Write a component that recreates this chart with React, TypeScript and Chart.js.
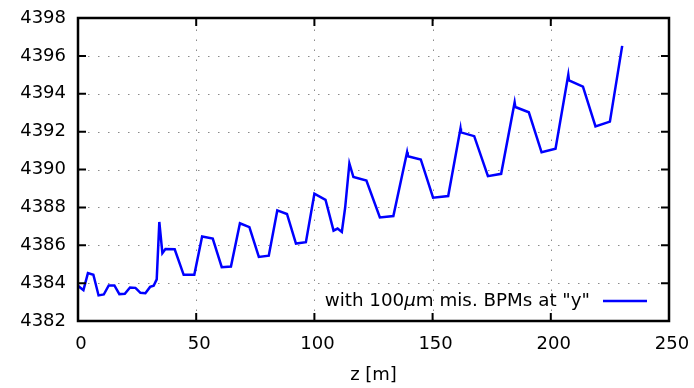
import React, { useEffect, useRef } from "react";
import { Chart, registerables } from "chart.js";

Chart.register(...registerables);

const zValues: number[] = [
  0, 2.3, 4.2, 6.5, 8.7, 10.9, 13, 15.4, 17.5, 19.8,
  22, 24.3, 26.4, 28.5, 30.5, 32, 33.3, 34.4, 35.7, 37,
  40.9, 44.7, 49.2, 52.5, 57, 60.8, 64.7, 68.5, 72.5, 76.5,
  80.7, 84.3, 88.4, 92.2, 96.4, 100, 104.7, 108.1, 109.8, 111.6,
  113, 114.8, 116.5, 122, 127.7, 133.4, 139.2, 139.5, 145, 150.2,
  156.6, 161.8, 162, 167.6, 173.4, 179, 184.7, 185, 190.7, 196.1,
  202, 207.4, 207.7, 213.6, 218.9, 225, 230.2,
];

const yValues: number[] = [
  4383.86, 4383.63, 4384.53, 4384.44, 4383.35, 4383.4, 4383.88, 4383.88, 4383.42, 4383.44,
  4383.77, 4383.75, 4383.49, 4383.47, 4383.8, 4383.86, 4384.2, 4387.23, 4385.58, 4385.8,
  4385.79, 4384.44, 4384.44, 4386.46, 4386.35, 4384.84, 4384.88, 4387.16, 4386.96, 4385.38,
  4385.45, 4387.84, 4387.65, 4386.09, 4386.16, 4388.72, 4388.4, 4386.77, 4386.88, 4386.7,
  4387.98, 4390.32, 4389.6, 4389.42, 4387.47, 4387.54, 4390.91, 4390.7, 4390.53, 4388.51,
  4388.6, 4392.16, 4391.96, 4391.76, 4389.65, 4389.77, 4393.54, 4393.3, 4393.02, 4390.91,
  4391.1, 4395.0, 4394.7, 4394.38, 4392.28, 4392.53, 4396.53,
];

const xTicks: number[] = [0, 50, 100, 150, 200, 250];
const yTicks: number[] = [4382, 4384, 4386, 4388, 4390, 4392, 4394, 4396, 4398];
const seriesLabel = 'with 100μm mis. BPMs at "y"';
const xTitle = "z [m]";

const FONT = "DejaVu Sans";

const gnuplotPlugin = {
  id: "gnuplotDecor",
  beforeDatasetsDraw(chart: any) {
    const { ctx, chartArea } = chart;
    const xs = chart.scales.x;
    const ys = chart.scales.y;
    ctx.save();
    ctx.strokeStyle = "#8a8a8a";
    ctx.lineWidth = 1;
    ctx.setLineDash([1.5, 8.5]);
    for (const v of xTicks.slice(1, -1)) {
      const px = Math.round(xs.getPixelForValue(v)) + 0.5;
      ctx.beginPath();
      ctx.moveTo(px, chartArea.bottom);
      ctx.lineTo(px, chartArea.top);
      ctx.stroke();
    }
    for (const v of yTicks.slice(1, -1)) {
      const py = Math.round(ys.getPixelForValue(v)) + 0.5;
      ctx.beginPath();
      ctx.moveTo(chartArea.left, py);
      ctx.lineTo(chartArea.right, py);
      ctx.stroke();
    }
    ctx.restore();
  },
  afterDatasetsDraw(chart: any) {
    const { ctx, chartArea } = chart;
    const xs = chart.scales.x;
    const ys = chart.scales.y;
    const { left, right, top, bottom } = chartArea;
    ctx.save();
    ctx.setLineDash([]);
    ctx.strokeStyle = "#000";
    ctx.lineWidth = 2;
    const tl = 8;
    for (const v of xTicks) {
      const px = xs.getPixelForValue(v);
      ctx.beginPath();
      ctx.moveTo(px, bottom);
      ctx.lineTo(px, bottom - tl);
      ctx.moveTo(px, top);
      ctx.lineTo(px, top + tl);
      ctx.stroke();
    }
    for (const v of yTicks) {
      const py = ys.getPixelForValue(v);
      ctx.beginPath();
      ctx.moveTo(left, py);
      ctx.lineTo(left + tl, py);
      ctx.moveTo(right, py);
      ctx.lineTo(right - tl, py);
      ctx.stroke();
    }
    ctx.lineWidth = 2.5;
    ctx.strokeRect(left, top, right - left, bottom - top);

    // legend (gnuplot style: text right-aligned, then sample line)
    const ds = chart.data.datasets[0];
    const label: string = ds.label;
    const ly = bottom - 20;
    const lineStart = right - 66;
    const lineEnd = right - 22;
    ctx.strokeStyle = ds.borderColor;
    ctx.lineWidth = 2.5;
    ctx.beginPath();
    ctx.moveTo(lineStart, ly);
    ctx.lineTo(lineEnd, ly);
    ctx.stroke();
    const idx = label.indexOf("μ");
    const fs = 18.3;
    const parts = idx >= 0
      ? [
          { t: label.slice(0, idx), f: `${fs}px "${FONT}"` },
          { t: "μ", f: `italic ${fs}px "${FONT}"` },
          { t: label.slice(idx + 1), f: `${fs}px "${FONT}"` },
        ]
      : [{ t: label, f: `${fs}px "${FONT}"` }];
    let total = 0;
    for (const p of parts) {
      ctx.font = p.f;
      total += ctx.measureText(p.t).width;
    }
    let x = lineStart - 13 - total;
    ctx.fillStyle = "#000";
    ctx.textBaseline = "middle";
    ctx.textAlign = "left";
    for (const p of parts) {
      ctx.font = p.f;
      ctx.fillText(p.t, x, ly);
      x += ctx.measureText(p.t).width;
    }
    ctx.restore();
  },
};

export default function App() {
  const canvasRef = useRef<HTMLCanvasElement | null>(null);

  useEffect(() => {
    document.body.style.margin = "0";
    const canvas = canvasRef.current;
    if (!canvas) return;
    const chart = new Chart(canvas, {
      type: "line",
      data: {
        datasets: [
          {
            label: seriesLabel,
            data: zValues.map((z, i) => ({ x: z, y: yValues[i] })),
            borderColor: "#0000ff",
            backgroundColor: "#0000ff",
            borderWidth: 2.5,
            pointRadius: 0,
            tension: 0,
            fill: false,
          },
        ],
      },
      options: {
        responsive: false,
        animation: false,
        devicePixelRatio: 1,
        layout: { padding: { left: 0, right: 25, top: 18, bottom: 0 } },
        plugins: {
          legend: { display: false },
          tooltip: { enabled: false },
        },
        scales: {
          x: {
            type: "linear",
            min: 0,
            max: 250,
            afterBuildTicks: (s: any) => {
              s.ticks = xTicks.map((v) => ({ value: v }));
            },
            afterFit: (s: any) => {
              s.height = 67;
              s.paddingLeft = 0;
              s.paddingRight = 0;
            },
            grid: { display: false, drawTicks: false },
            border: { display: false },
            ticks: {
              color: "#000",
              padding: 13,
              labelOffset: 3,
              maxRotation: 0,
              autoSkip: false,
              font: { family: FONT, size: 18 },
            },
            title: {
              display: true,
              text: xTitle,
              color: "#000",
              font: { family: FONT, size: 18 },
              padding: { top: 0, bottom: 2 },
            },
          },
          y: {
            type: "linear",
            min: 4382,
            max: 4398,
            afterBuildTicks: (s: any) => {
              s.ticks = yTicks.map((v) => ({ value: v }));
            },
            afterFit: (s: any) => {
              s.width = 78;
              s.paddingTop = 0;
              s.paddingBottom = 0;
            },
            grid: { display: false, drawTicks: false },
            border: { display: false },
            ticks: {
              color: "#000",
              padding: 12,
              autoSkip: false,
              font: { family: FONT, size: 18 },
              callback: (v: any) => String(v),
            },
          },
        },
      },
      plugins: [gnuplotPlugin],
    });
    return () => chart.destroy();
  }, []);

  return (
    <div style={{ width: 694, height: 388, background: "#fff" }}>
      <canvas ref={canvasRef} width={694} height={388} style={{ display: "block" }} />
    </div>
  );
}
